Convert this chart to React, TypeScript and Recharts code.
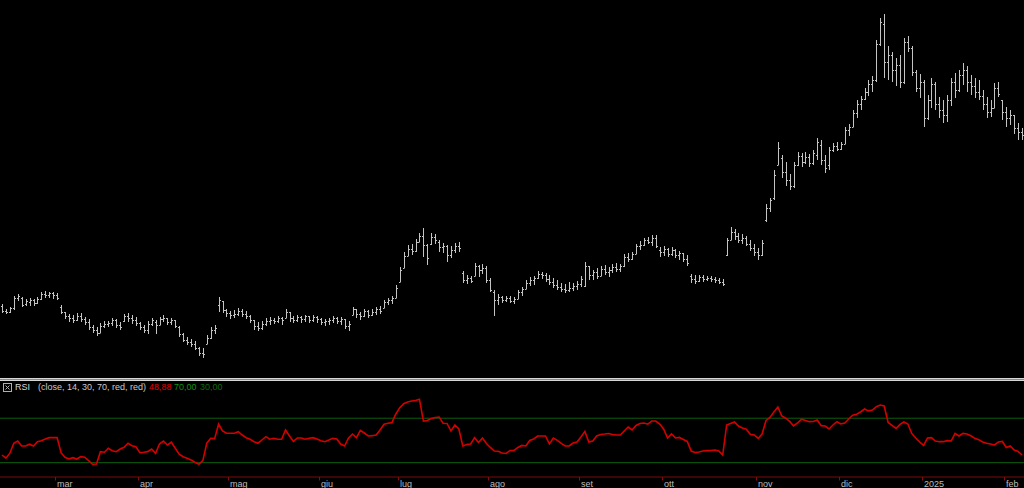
import { ComposedChart, Bar, Line, XAxis, YAxis, ReferenceLine } from 'recharts'

// daily OHLC, feb 2024 -> feb 2025 (price units)
const OPEN = [
  94, 89, 88, 92, 102, 102, 96, 98, 100, 97,
  101, 106, 105, 107, 105, 93, 88, 84, 82, 80,
  84, 81, 78, 73, 70, 67, 74, 76, 77, 80,
  75, 79, 84, 82, 80, 77, 73, 70, 76, 78,
  75, 81, 82, 78, 80, 73, 66, 60, 58, 56,
  52, 47, 56, 62, 70, 95, 99, 90, 87, 85,
  86, 89, 86, 84, 80, 74, 72, 76, 79, 80,
  79, 82, 82, 88, 82, 80, 83, 81, 84, 80,
  83, 81, 78, 79, 80, 82, 79, 81, 74, 85,
  91, 86, 84, 89, 85, 88, 91, 92, 98, 100,
  102, 118, 132, 144, 151, 149, 158, 164, 155, 156,
  163, 158, 153, 154, 145, 150, 154, 127, 120, 122,
  124, 134, 130, 132, 120, 108, 100, 103, 100, 102,
  99, 101, 108, 111, 117, 120, 122, 126, 125, 121,
  118, 115, 113, 111, 110, 112, 114, 116, 114, 134,
  125, 128, 124, 131, 128, 130, 133, 131, 134, 143,
  141, 146, 154, 155, 160, 158, 162, 150, 148, 151,
  146, 150, 145, 147, 141, 124, 121, 119, 123, 121,
  122, 121, 120, 118, 145, 160, 168, 164, 160, 162,
  156, 152, 148, 145, 180, 192, 202, 235, 242, 228,
  220, 214, 235, 244, 238, 243, 237, 245, 255, 240,
  235, 250, 254, 251, 256, 270, 273, 287, 296, 301,
  308, 316, 320, 356, 376, 338, 345, 330, 335, 318,
  358, 352, 328, 312, 318, 282, 300, 316, 296, 290,
  285, 300, 318, 310, 325, 330, 318, 314, 308, 304,
  296, 288, 292, 312, 300, 288, 282, 285, 272, 268,
]

const HIGH = [
  96, 91, 93, 104, 106, 103, 101, 102, 101, 103,
  108, 109, 108, 108, 107, 95, 88, 86, 85, 87,
  87, 83, 81, 75, 73, 77, 79, 79, 82, 81,
  78, 86, 87, 85, 83, 78, 75, 79, 82, 80,
  83, 85, 82, 82, 80, 74, 67, 63, 61, 59,
  53, 52, 65, 73, 75, 103, 99, 91, 89, 90,
  92, 91, 89, 85, 80, 78, 79, 82, 83, 82,
  84, 83, 91, 88, 84, 85, 84, 85, 84, 85,
  84, 82, 81, 82, 84, 83, 83, 81, 79, 93,
  91, 88, 91, 90, 91, 93, 94, 100, 102, 104,
  115, 133, 148, 155, 156, 161, 167, 172, 156, 167,
  166, 160, 157, 155, 154, 157, 158, 129, 125, 124,
  137, 135, 136, 134, 122, 110, 106, 104, 104, 104,
  103, 110, 113, 120, 123, 124, 129, 128, 127, 125,
  122, 120, 117, 116, 118, 117, 119, 124, 138, 134,
  130, 132, 134, 135, 133, 136, 137, 136, 146, 147,
  148, 156, 159, 162, 163, 165, 165, 153, 154, 152,
  153, 151, 149, 147, 145, 126, 125, 125, 125, 124,
  124, 123, 122, 121, 162, 173, 171, 167, 166, 164,
  160, 156, 152, 160, 196, 202, 230, 258, 245, 238,
  226, 238, 248, 247, 248, 246, 250, 262, 260, 245,
  253, 257, 258, 258, 273, 276, 290, 300, 304, 312,
  320, 324, 360, 382, 386, 354, 348, 342, 345, 362,
  364, 354, 330, 326, 320, 305, 322, 318, 303, 300,
  305, 322, 327, 330, 337, 334, 325, 322, 320, 310,
  303, 300, 317, 318, 300, 293, 290, 285, 277, 272,
]

const LOW = [
  87, 86, 87, 90, 99, 93, 94, 94, 94, 96,
  100, 102, 102, 101, 100, 86, 81, 78, 77, 79,
  78, 75, 70, 67, 64, 67, 72, 73, 74, 72,
  70, 78, 78, 76, 74, 70, 67, 66, 74, 66,
  75, 78, 75, 75, 72, 63, 58, 55, 53, 50,
  44, 42, 56, 61, 66, 88, 87, 83, 81, 82,
  84, 83, 81, 77, 70, 69, 70, 74, 75, 76,
  77, 75, 82, 78, 77, 78, 77, 78, 77, 78,
  77, 75, 74, 75, 77, 76, 75, 71, 69, 85,
  82, 80, 83, 82, 84, 85, 86, 92, 95, 96,
  102, 118, 132, 144, 145, 148, 158, 143, 135, 155,
  156, 148, 147, 138, 142, 147, 148, 117, 116, 117,
  124, 123, 126, 117, 108, 84, 95, 97, 98, 97,
  96, 101, 104, 111, 114, 115, 121, 121, 118, 115,
  112, 110, 108, 107, 108, 109, 110, 113, 113, 120,
  120, 121, 124, 125, 123, 127, 128, 128, 133, 138,
  140, 146, 150, 154, 156, 154, 152, 143, 144, 143,
  144, 142, 140, 138, 134, 117, 116, 118, 118, 119,
  118, 117, 116, 114, 144, 160, 160, 157, 156, 154,
  149, 144, 140, 144, 178, 188, 200, 235, 222, 214,
  210, 212, 234, 233, 236, 233, 235, 240, 235, 227,
  230, 248, 249, 250, 256, 264, 273, 282, 290, 300,
  304, 308, 318, 354, 322, 320, 318, 314, 312, 316,
  348, 324, 308, 302, 273, 280, 292, 290, 282, 277,
  278, 294, 302, 308, 315, 308, 305, 302, 300, 290,
  282, 283, 292, 303, 280, 273, 275, 266, 260, 260,
]

const CLOSE = [
  89, 88, 92, 102, 104, 95, 99, 100, 97, 101,
  106, 105, 107, 105, 102, 88, 84, 82, 80, 84,
  81, 78, 73, 70, 67, 74, 76, 77, 80, 75,
  73, 84, 82, 80, 77, 73, 70, 76, 80, 75,
  81, 82, 78, 80, 74, 66, 60, 58, 56, 52,
  47, 46, 62, 70, 72, 100, 90, 87, 85, 86,
  89, 86, 84, 80, 74, 72, 76, 79, 80, 79,
  82, 80, 88, 82, 80, 83, 81, 84, 80, 83,
  81, 78, 79, 80, 82, 79, 81, 74, 76, 91,
  86, 84, 89, 85, 88, 91, 89, 98, 100, 102,
  112, 130, 144, 151, 149, 158, 164, 155, 142, 163,
  160, 153, 154, 145, 150, 154, 152, 120, 122, 119,
  134, 130, 132, 120, 110, 100, 103, 100, 102, 99,
  101, 108, 111, 117, 120, 122, 126, 125, 121, 118,
  115, 113, 111, 110, 112, 114, 116, 121, 134, 125,
  128, 124, 131, 128, 130, 133, 131, 134, 143, 141,
  146, 154, 155, 160, 158, 162, 154, 148, 151, 146,
  150, 145, 147, 141, 137, 121, 119, 123, 121, 122,
  121, 120, 118, 116, 160, 168, 164, 160, 162, 156,
  152, 148, 145, 157, 192, 200, 225, 252, 228, 220,
  214, 235, 244, 238, 243, 237, 247, 258, 240, 232,
  250, 254, 251, 256, 270, 273, 287, 296, 301, 308,
  316, 320, 356, 378, 338, 345, 330, 335, 318, 358,
  352, 328, 312, 318, 282, 300, 316, 296, 290, 285,
  300, 318, 310, 325, 330, 318, 314, 308, 304, 296,
  288, 292, 312, 306, 288, 282, 285, 272, 268, 265,
]

// RSI(14) as plotted in the lower panel
const RSI = [
  36.9, 34.0, 38.5, 47.5, 49.5, 45.0, 45.0, 46.6, 45.0, 48.9,
  49.8, 51.3, 52.5, 52.5, 52.5, 39.0, 34.9, 33.3, 34.5, 33.3,
  35.4, 34.9, 31.8, 28.6, 28.8, 39.9, 39.4, 43.0, 40.8, 39.9,
  42.3, 43.9, 47.5, 45.3, 44.4, 39.0, 39.4, 39.9, 42.3, 38.5,
  46.8, 49.5, 45.9, 48.4, 43.0, 37.6, 35.4, 34.0, 32.4, 30.4,
  28.6, 31.8, 47.5, 52.0, 51.6, 64.8, 58.5, 56.5, 56.5, 56.5,
  57.9, 54.9, 52.5, 51.1, 48.9, 47.5, 50.4, 53.4, 51.1, 52.0,
  51.1, 51.1, 59.4, 54.0, 49.1, 52.2, 52.2, 51.1, 52.0, 52.5,
  51.3, 49.8, 48.9, 50.4, 52.0, 51.3, 46.8, 45.0, 52.2, 55.8,
  52.5, 59.0, 56.7, 54.0, 54.3, 54.9, 59.4, 64.6, 65.5, 66.0,
  73.8, 79.5, 83.1, 84.6, 85.5, 86.0, 87.1, 67.5, 68.0, 69.8,
  70.7, 71.1, 65.5, 65.3, 58.5, 63.9, 60.3, 45.0, 46.4, 46.8,
  52.5, 48.2, 52.2, 47.3, 43.7, 40.5, 40.3, 38.7, 38.3, 41.0,
  41.0, 43.7, 45.5, 45.0, 50.0, 51.3, 54.0, 54.0, 54.0, 46.8,
  52.2, 50.0, 47.3, 45.0, 45.0, 47.7, 48.6, 53.1, 58.1, 48.6,
  49.5, 54.0, 55.4, 55.8, 56.3, 55.4, 54.9, 54.9, 58.5, 62.1,
  59.4, 63.5, 65.3, 65.7, 64.6, 67.5, 67.5, 64.8, 60.3, 52.2,
  55.8, 52.2, 52.7, 50.9, 49.1, 40.5, 39.2, 39.6, 40.5, 40.8,
  41.0, 41.4, 40.5, 36.9, 63.9, 65.3, 66.6, 63.0, 61.2, 60.1,
  55.6, 54.9, 51.8, 55.8, 68.0, 70.7, 75.6, 80.1, 72.0, 70.0,
  67.1, 63.0, 65.7, 69.1, 68.0, 66.9, 67.1, 68.4, 63.3, 63.0,
  60.3, 63.9, 66.9, 64.8, 65.7, 69.3, 72.8, 73.6, 75.6, 78.3,
  76.5, 77.4, 80.4, 81.9, 81.0, 66.2, 63.5, 60.8, 64.4, 66.6,
  64.8, 56.3, 52.2, 48.6, 45.5, 52.2, 52.5, 49.5, 48.9, 48.9,
  49.8, 49.5, 56.3, 54.0, 56.3, 55.8, 54.2, 51.9, 50.7, 48.6,
  47.5, 46.8, 45.9, 48.6, 49.1, 43.7, 45.0, 41.4, 40.2, 36.9,
]

// first bar of each month on the time axis
const TICK_INDEX = [14, 35, 58, 81, 101, 124, 147, 168, 192, 213, 234, 255]
const TICK_LABELS = ['mar', 'apr', 'mag', 'giu', 'lug', 'ago', 'set', 'ott', 'nov', 'dic', '2025', 'feb']

const FONT = '"Liberation Sans", Arial, sans-serif'
const W = 1024
const BAR_COLOR = '#c4c4c4'
const GRID_GREEN = '#0d5e0d'

const rows = CLOSE.map((c, i) => ({
  i,
  o: OPEN[i],
  h: HIGH[i],
  l: LOW[i],
  c,
  rsi: RSI[i],
}))

function OhlcBar(props: any) {
  const { x, y, width, height, payload } = props
  if (!payload || x == null) return null
  const top = Math.min(y, y + height)
  const len = Math.abs(height)
  const span = payload.h - payload.l || 1
  const yOf = (v: number) => top + ((payload.h - v) / span) * len
  const cx = Math.round(x + width / 2) + 0.5
  const yo = Math.round(yOf(payload.o)) + 0.5
  const yc = Math.round(yOf(payload.c)) + 0.5
  return (
    <g stroke={BAR_COLOR} strokeWidth={1} fill="none">
      <line x1={cx} x2={cx} y1={top} y2={top + Math.max(len, 1)} />
      <line x1={cx - 1.5} x2={cx} y1={yo} y2={yo} />
      <line x1={cx} x2={cx + 1.5} y1={yc} y2={yc} />
    </g>
  )
}

function MonthTick(props: any) {
  const { x, payload } = props
  const k = TICK_INDEX.indexOf(payload.value)
  if (k < 0) return null
  const bx = Math.round(x - 2) + 0.5
  return (
    <g>
      <line x1={bx} x2={bx} y1={96} y2={99.5} stroke="#8a0a0a" strokeWidth={1} />
      <text x={bx + 1.5} y={106} fill="#bdbdbd" fontSize={9} fontFamily={FONT}>
        {TICK_LABELS[k]}
      </text>
    </g>
  )
}

function CheckBox() {
  return (
    <svg width={10} height={10} style={{ position: 'absolute', left: 3, top: 383 }}>
      <rect x={0.5} y={0.5} width={8} height={8} fill="none" stroke="#b0b0b0" />
      <line x1={2.5} y1={2.5} x2={6.5} y2={6.5} stroke="#b0b0b0" />
      <line x1={6.5} y1={2.5} x2={2.5} y2={6.5} stroke="#b0b0b0" />
    </svg>
  )
}

const headerText = {
  position: 'absolute' as const,
  top: 382,
  fontSize: 9,
  lineHeight: '10px',
  fontFamily: FONT,
  whiteSpace: 'pre' as const,
}

export default function App() {
  return (
    <div
      style={{
        position: 'fixed',
        left: 0,
        top: 0,
        width: W,
        height: 488,
        background: '#000',
        overflow: 'hidden',
      }}
    >
      <div style={{ position: 'absolute', left: 0, top: 0 }}>
        <ComposedChart width={W} height={378} data={rows} margin={{ top: 0, right: 0, bottom: 0, left: 0 }} barCategoryGap={0}>
          <XAxis dataKey="i" type="category" scale="band" hide />
          <YAxis hide domain={[22, 400]} allowDataOverflow />
          <Bar dataKey={(r: any) => [r.l, r.h]} shape={OhlcBar} isAnimationActive={false} />
        </ComposedChart>
      </div>

      <div style={{ position: 'absolute', left: 0, top: 378, width: W, height: 1, background: '#d6d6d6' }} />
      <div style={{ position: 'absolute', left: 0, top: 379, width: W, height: 1, background: '#8a8a8a' }} />
      <div style={{ position: 'absolute', left: 0, top: 380, width: W, height: 1, background: '#d6d6d6' }} />

      <div style={{ position: 'absolute', left: 0, top: 381 }}>
        <ComposedChart width={W} height={107} data={rows} margin={{ top: 0, right: 0, bottom: 0, left: 0 }}>
          <XAxis
            dataKey="i"
            type="category"
            scale="band"
            height={11}
            ticks={TICK_INDEX}
            interval={0}
            tick={MonthTick}
            tickLine={false}
            axisLine={{ stroke: '#7a0a0a', strokeWidth: 1 }}
          />
          <YAxis hide domain={[17.1, 103.5]} allowDataOverflow />
          <ReferenceLine y={70} stroke={GRID_GREEN} strokeWidth={1} />
          <ReferenceLine y={30} stroke={GRID_GREEN} strokeWidth={1} />
          <Line
            type="linear"
            dataKey="rsi"
            stroke="#d40000"
            strokeWidth={1.6}
            dot={false}
            isAnimationActive={false}
          />
        </ComposedChart>
      </div>

      <CheckBox />
      <span style={{ ...headerText, left: 15, color: '#d8d8d8' }}>RSI</span>
      <span style={{ ...headerText, left: 38, color: '#c8c8c8' }}>(close, 14, 30, 70, red, red)</span>
      <span style={{ ...headerText, left: 149, color: '#e00000' }}>48,88</span>
      <span style={{ ...headerText, left: 174, color: '#119011' }}>70,00</span>
      <span style={{ ...headerText, left: 200, color: '#0b6a0b' }}>30,00</span>
    </div>
  )
}
